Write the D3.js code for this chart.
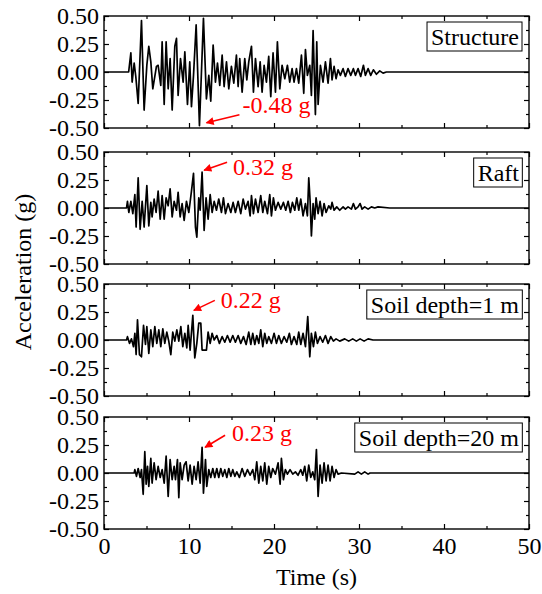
<!DOCTYPE html>
<html>
<head>
<meta charset="utf-8">
<script src="https://cdn.jsdelivr.net/npm/d3@7"></script>
<style>
body { margin: 0; background: #fff; }
svg text { font-family: "Liberation Serif", "Times New Roman", serif; }
</style>
</head>
<body>
<div id="chart"></div>
<script>
// values (time s, acceleration g)
const panelNames = ['Structure', 'Raft', 'Soil depth=1 m', 'Soil depth=20 m'];

const structure = [[0,0],[2.9,0],[3.16,0.17],[3.31,-0.09],[3.55,0.08],[3.74,-0.04],[4.02,-0.28],[4.41,0.46],[4.72,-0.34],[5.04,0.06],[5.27,0.23],[5.51,0.09],[5.74,-0.15],[6.17,0.05],[6.37,0.06],[6.68,-0.12],[6.84,0.27],[7.08,-0.29],[7.31,0.27],[7.55,-0.15],[7.78,0.12],[8.02,-0.34],[8.33,0.23],[8.53,0.30],[8.72,-0.21],[9.00,0.12],[9.31,-0.09],[9.51,0.18],[9.82,-0.29],[10.09,0.09],[10.29,-0.31],[10.53,-0.03],[10.84,0.42],[11.23,-0.48],[11.70,0.48],[12.05,-0.24],[12.33,-0.03],[12.56,-0.26],[12.84,0.24],[13.11,-0.09],[13.35,0.08],[13.62,-0.12],[13.90,0.15],[14.13,-0.13],[14.41,0.09],[14.68,-0.15],[14.99,0.05],[15.27,-0.10],[15.58,0.15],[15.78,-0.13],[15.97,0.12],[16.25,-0.18],[16.56,0.12],[16.80,-0.07],[17.03,0.09],[17.35,0.23],[17.58,-0.18],[17.82,0.12],[18.13,-0.13],[18.37,0.09],[18.60,-0.18],[18.84,0.06],[19.11,-0.09],[19.38,0.14],[19.62,-0.22],[19.89,0.17],[20.17,-0.18],[20.40,0.27],[20.68,-0.15],[20.95,0.06],[21.27,-0.06],[21.58,0.06],[21.85,-0.09],[22.13,0.03],[22.36,-0.09],[22.64,0.03],[22.91,-0.10],[23.23,0.15],[23.50,-0.19],[23.70,0.20],[23.93,-0.03],[24.21,0.06],[24.40,-0.21],[24.60,0.37],[24.87,-0.38],[25.03,0.27],[25.19,-0.29],[25.46,0.06],[25.77,-0.09],[26.05,0.09],[26.36,-0.10],[26.64,0.12],[26.83,-0.07],[27.07,0.05],[27.30,-0.06],[27.54,0.02],[27.81,-0.03],[28.13,0.03],[28.40,-0.04],[28.71,0.03],[29.03,-0.03],[29.34,0.03],[29.58,-0.03],[29.89,0.03],[30.20,-0.04],[30.52,0.06],[30.75,-0.03],[31.07,0.03],[31.38,-0.03],[31.69,0.02],[32.05,-0.02],[32.44,0.01],[32.83,-0.01],[33.22,0],[50,0]];

const raft = [[0,0],[2.65,0],[2.76,0.06],[2.92,-0.04],[3.16,0.06],[3.39,-0.05],[3.63,0.12],[3.78,-0.17],[4.02,0.27],[4.25,-0.19],[4.49,0.06],[4.72,-0.17],[5.04,0.20],[5.27,-0.16],[5.51,0.05],[5.66,-0.08],[5.90,0.08],[6.13,-0.04],[6.37,0.15],[6.61,-0.10],[6.84,0.11],[7.08,-0.10],[7.31,0.09],[7.55,0.02],[7.78,0.17],[8.02,-0.08],[8.25,0.06],[8.53,-0.02],[8.72,0.14],[8.96,-0.08],[9.19,0.04],[9.43,-0.11],[9.70,0.06],[9.98,-0.04],[10.29,0.15],[10.53,0.31],[10.76,-0.17],[10.92,-0.26],[11.15,0.09],[11.31,-0.02],[11.54,0.32],[11.78,-0.20],[12.01,0.09],[12.25,-0.10],[12.49,0.12],[12.72,-0.04],[12.96,0.06],[13.23,-0.02],[13.50,0.08],[13.82,-0.04],[14.05,0.09],[14.29,-0.05],[14.60,0.04],[14.92,-0.04],[15.19,0.05],[15.46,-0.04],[15.78,0.06],[16.09,-0.05],[16.37,0.08],[16.64,-0.01],[16.95,0.06],[17.19,-0.07],[17.35,0.11],[17.58,-0.05],[17.82,0.08],[18.13,-0.04],[18.44,0.11],[18.68,-0.04],[18.91,0.06],[19.23,-0.05],[19.50,0.12],[19.70,-0.07],[19.93,0.09],[20.17,-0.02],[20.48,0.05],[20.80,-0.01],[21.11,0.05],[21.38,-0.02],[21.66,0.06],[21.93,-0.04],[22.17,0.05],[22.44,-0.02],[22.68,0.09],[22.91,-0.02],[23.15,0.08],[23.42,-0.07],[23.70,0.04],[23.93,-0.07],[24.09,0.27],[24.25,0.06],[24.40,-0.25],[24.60,0.04],[24.79,-0.10],[24.95,0.09],[25.19,-0.05],[25.42,0.06],[25.66,-0.07],[25.89,0.04],[26.13,-0.04],[26.44,0.02],[26.68,-0.01],[26.83,0.05],[27.07,-0.02],[27.38,0.01],[27.73,-0.02],[28.13,0.01],[28.40,-0.01],[28.71,0.01],[29.11,-0.01],[29.34,0.04],[29.58,-0.01],[29.89,0.01],[30.13,0.04],[30.36,-0.01],[30.67,0.01],[31.07,-0.01],[31.46,0.01],[31.85,0],[32.24,0.01],[33.61,0],[50,0]];

const soil1m = [[0,0],[2.65,0],[2.76,0.03],[3.00,-0.03],[3.23,0.01],[3.47,-0.06],[3.63,0.06],[3.78,-0.13],[3.94,0.18],[4.17,-0.13],[4.41,-0.15],[4.65,0.13],[4.88,-0.04],[5.04,0.12],[5.27,-0.12],[5.51,0.09],[5.74,-0.06],[5.98,0.12],[6.21,-0.03],[6.45,0.09],[6.68,-0.06],[6.92,0.10],[7.15,-0.03],[7.39,0.07],[7.62,-0.01],[7.86,-0.13],[8.09,0.07],[8.33,-0.01],[8.57,0.09],[8.80,-0.01],[9.04,0.12],[9.27,-0.06],[9.51,0.06],[9.74,-0.07],[9.90,0.13],[10.13,-0.09],[10.45,0.22],[10.68,-0.16],[10.92,-0.03],[11.15,0.15],[11.39,0.15],[11.54,-0.09],[12.05,-0.09],[12.25,0.07],[12.49,-0.03],[12.72,0.06],[12.96,0],[13.27,0.04],[13.58,-0.03],[13.90,0.03],[14.21,-0.02],[14.52,0.04],[14.84,-0.02],[15.15,0.04],[15.46,-0.02],[15.78,0.04],[16.09,-0.03],[16.41,0.03],[16.72,-0.04],[17.03,0.07],[17.27,-0.04],[17.50,0.06],[17.74,-0.04],[17.97,0.04],[18.21,-0.03],[18.44,0.09],[18.68,-0.06],[18.91,0.06],[19.15,-0.03],[19.38,0.03],[19.70,-0.03],[20.01,0.06],[20.29,-0.03],[20.56,0.04],[20.87,-0.03],[21.19,0.03],[21.50,-0.02],[21.81,0.06],[22.05,-0.04],[22.36,0.03],[22.68,-0.04],[22.91,0.07],[23.15,-0.04],[23.42,0.06],[23.70,-0.06],[23.97,0.21],[24.21,-0.15],[24.40,0.06],[24.64,-0.06],[24.87,0.07],[25.11,-0.03],[25.42,0.03],[25.73,-0.02],[26.05,0.04],[26.36,-0.03],[26.68,0.03],[26.99,-0.01],[27.30,0.01],[27.73,-0.01],[28.32,0.01],[28.79,-0.01],[29.26,0.01],[29.69,-0.01],[30.13,0.01],[30.60,-0.01],[31.07,0.01],[31.65,0],[50,0]];

const soil20m = [[0,0],[3.55,0],[3.63,0.03],[3.82,-0.03],[4.02,0.04],[4.25,-0.04],[4.41,0.03],[4.61,-0.19],[4.80,0.19],[4.96,-0.10],[5.12,0.06],[5.27,-0.12],[5.51,0.13],[5.66,-0.09],[5.90,0.09],[6.13,-0.06],[6.37,0.06],[6.61,-0.04],[6.84,0.03],[7.08,-0.09],[7.31,0.15],[7.55,-0.21],[7.78,0.12],[8.02,-0.06],[8.25,0.06],[8.41,-0.06],[8.64,0.12],[8.80,-0.22],[8.96,0.09],[9.19,-0.06],[9.43,0.07],[9.66,0.10],[9.90,-0.07],[10.13,0.07],[10.37,-0.10],[10.60,0.06],[10.84,-0.06],[11.07,0.10],[11.31,-0.09],[11.54,0.23],[11.70,-0.18],[11.94,0.12],[12.09,-0.12],[12.33,0.03],[12.56,-0.04],[12.80,0.04],[13.03,-0.04],[13.27,0.04],[13.50,-0.04],[13.74,0.04],[13.97,-0.03],[14.21,0.03],[14.45,-0.04],[14.68,0.04],[14.92,-0.03],[15.15,0.03],[15.39,-0.03],[15.62,0.01],[15.93,-0.04],[16.25,0.04],[16.56,-0.03],[16.88,0.03],[17.19,-0.02],[17.50,0.03],[17.74,-0.06],[17.97,0.10],[18.21,-0.09],[18.44,0.06],[18.68,-0.07],[18.91,0.09],[19.15,-0.10],[19.38,0.06],[19.62,-0.04],[19.85,0.04],[20.17,-0.01],[20.48,0.09],[20.72,-0.10],[20.87,0.13],[21.11,-0.06],[21.34,0.03],[21.58,-0.01],[21.89,0.03],[22.21,-0.01],[22.52,0.01],[22.83,-0.02],[23.15,0.03],[23.38,-0.02],[23.62,0.06],[23.85,-0.07],[24.09,0.07],[24.32,-0.04],[24.56,0.01],[24.79,-0.06],[24.99,0.21],[25.19,-0.21],[25.42,0.07],[25.66,-0.09],[25.89,0.09],[26.13,-0.07],[26.36,0.07],[26.60,-0.07],[26.83,0.06],[27.07,-0.04],[27.30,0.03],[27.54,-0.01],[27.93,0],[29.50,-0.01],[29.89,0.01],[30.28,-0.01],[30.67,0.01],[31.07,-0.01],[31.30,0],[50,0]];

const series = [structure, raft, soil1m, soil20m];

const peakLabels = ['-0.48 g', '0.32 g', '0.22 g', '0.23 g'];
const peakTimes = [11.23, 11.54, 10.45, 11.54];
const peakValues = [-0.48, 0.32, 0.22, 0.23];

const yTicks = [-0.5, -0.25, 0, 0.25, 0.5];
const yMinor = [-0.375, -0.125, 0.125, 0.375];
const xTicks = [0, 10, 20, 30, 40, 50];
const xMinor = [5, 15, 25, 35, 45];

const width = 542, height = 594;
const left = 104, right = 529;
const panelTops = [16, 152, 284, 417];
const panelH = 112;
// arrow tip / tail / text offsets from the peak point, px
const annoPos = [
	{ tip: [7, -3], tail: [40, -11], text: [43, -13] },
	{ tip: [2, -2], tail: [25, -10], text: [31, 3] },
	{ tip: [1, -5], tail: [22, -15], text: [28, -7] },
	{ tip: [3, 0], tail: [23, -12], text: [30, -6] }
];

const fmt = d => d3.format('.2f')(d).replace('\u2212', '-');

let svg = d3.select('#chart').append('svg')
	.attr('width', width)
	.attr('height', height);

svg.append('defs').append('marker')
	.attr('id', 'arrow')
	.attr('viewBox', '0 0 10 10')
	.attr('refX', 9).attr('refY', 5)
	.attr('markerWidth', 10).attr('markerHeight', 8)
	.attr('markerUnits', 'userSpaceOnUse')
	.attr('orient', 'auto')
	.append('path')
	.attr('d', 'M0,0 L10,5 L0,10 Z')
	.attr('fill', '#ff0000');

let xScale = d3.scaleLinear().domain([0, 50]).range([left, right]);

series.forEach((data, i) => {
	let top = panelTops[i];
	let yScale = d3.scaleLinear().domain([-0.5, 0.5]).range([top + panelH, top]);
	let g = svg.append('g').attr('class', 'panel');

	// ticks on all four sides, pointing inward
	let axes = [
		[d3.axisLeft(yScale).tickValues(yTicks).tickSize(-5).tickPadding(5).tickFormat(fmt), `translate(${left},0)`],
		[d3.axisLeft(yScale).tickValues(yMinor).tickSize(-3).tickFormat(''), `translate(${left},0)`],
		[d3.axisRight(yScale).tickValues(yTicks).tickSize(-5).tickFormat(''), `translate(${right},0)`],
		[d3.axisRight(yScale).tickValues(yMinor).tickSize(-3).tickFormat(''), `translate(${right},0)`],
		[d3.axisBottom(xScale).tickValues(xTicks).tickSize(-5).tickPadding(8)
			.tickFormat(i === 3 ? d3.format('d') : ''), `translate(0,${top + panelH})`],
		[d3.axisBottom(xScale).tickValues(xMinor).tickSize(-3).tickFormat(''), `translate(0,${top + panelH})`],
		[d3.axisTop(xScale).tickValues(xTicks).tickSize(-5).tickFormat(''), `translate(0,${top})`],
		[d3.axisTop(xScale).tickValues(xMinor).tickSize(-3).tickFormat(''), `translate(0,${top})`]
	];
	axes.forEach(([ax, tr]) => {
		let a = g.append('g').attr('transform', tr).call(ax);
		a.select('.domain').remove();
		a.selectAll('line').attr('stroke', '#000').attr('stroke-width', 1.2);
		a.selectAll('text')
			.attr('fill', '#000')
			.style('font-size', '24px')
			.style('font-family', '"Liberation Serif", serif');
	});

	let line = d3.line()
		.x(d => xScale(d[0]))
		.y(d => yScale(d[1]));
	g.append('path')
		.datum(data)
		.attr('d', line)
		.attr('fill', 'none')
		.attr('stroke', '#000')
		.attr('stroke-width', 1.7)
		.attr('stroke-linejoin', 'round');

	g.append('rect')
		.attr('x', left).attr('y', top)
		.attr('width', right - left).attr('height', panelH)
		.attr('fill', 'none')
		.attr('stroke', '#000')
		.attr('stroke-width', 1.4);

	// legend box
	let box = g.append('rect');
	let lt = g.append('text')
		.attr('x', 519).attr('y', top + 29)
		.attr('text-anchor', 'end')
		.style('font-size', '24px')
		.attr('fill', '#000')
		.text(panelNames[i]);
	let bb = lt.node().getBBox();
	box.attr('x', bb.x - 4).attr('y', top + 6)
		.attr('width', bb.width + 7).attr('height', 29)
		.attr('fill', '#fff')
		.attr('stroke', '#000')
		.attr('stroke-width', 1);

	// peak annotation
	let px = xScale(peakTimes[i]), py = yScale(peakValues[i]);
	let p = annoPos[i];
	g.append('line')
		.attr('x1', px + p.tail[0]).attr('y1', py + p.tail[1])
		.attr('x2', px + p.tip[0]).attr('y2', py + p.tip[1])
		.attr('stroke', '#ff0000')
		.attr('stroke-width', 1.6)
		.attr('marker-end', 'url(#arrow)');
	g.append('text')
		.attr('x', px + p.text[0]).attr('y', py + p.text[1])
		.attr('fill', '#ff0000')
		.style('font-size', '24px')
		.text(peakLabels[i]);
});

svg.append('text')
	.attr('x', (left + right) / 2).attr('y', 585)
	.attr('text-anchor', 'middle')
	.style('font-size', '24px')
	.text('Time (s)');

svg.append('text')
	.attr('transform', 'rotate(-90)')
	.attr('x', -272).attr('y', 31)
	.attr('text-anchor', 'middle')
	.style('font-size', '24px')
	.text('Acceleration (g)');
</script>
</body>
</html>
